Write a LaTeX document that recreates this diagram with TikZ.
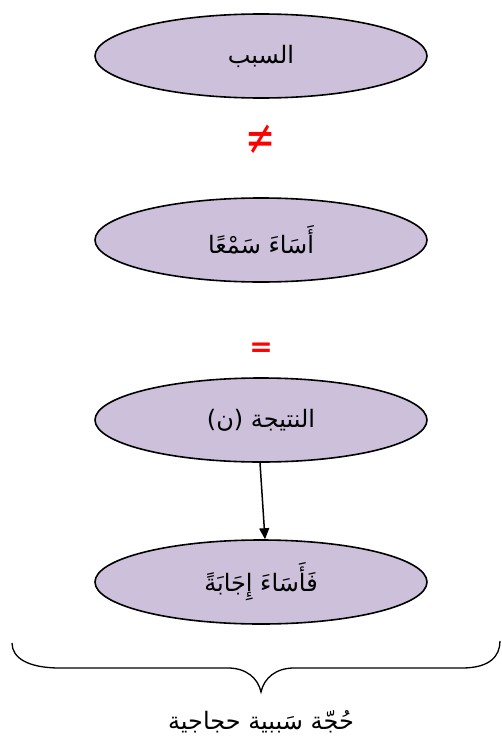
\documentclass[tikz,border=0pt]{standalone}
\usepackage{fontspec}
\usepackage{graphicx}
\newfontfamily\arabicfont[Script=Arabic]{DejaVu Sans}
\newfontfamily\symfont{DejaVu Sans}
\TeXXeTstate=1
\usetikzlibrary{shapes.geometric,arrows.meta}
\definecolor{lav}{RGB}{204,192,218}
\begin{document}
\begin{tikzpicture}[x=1pt,y=1pt,
  oval/.style={ellipse,draw=black,line width=1.6pt,fill=lav,minimum width=332pt,minimum height=84pt,inner sep=0pt,font=\arabicfont\fontsize{24}{28}\selectfont},
  sym/.style={text=red,inner sep=0pt}]
\useasboundingbox (0,0) rectangle (502,-744);
\node[oval] (e1) at (261,-56) {\beginR السبب\endR};
\node[sym,font=\symfont\fontsize{36}{36}\selectfont] (ne) at (261,-140) {\scalebox{1}[1.35]{≠}};
\node[oval] (e2) at (261,-240) {\beginR أَسَاءَ سَمْعًا\endR};
\node[sym,font=\symfont\fontsize{28}{28}\bfseries\selectfont] (eq) at (261,-350) {=};
\node[oval] (e3) at (261,-420) {\beginR النتيجة (ن)\endR};
\node[oval] (e4) at (261,-582) {\beginR فَأَسَاءَ إِجَابَةً\endR};
\draw[line width=1.5pt,-{Triangle[length=11pt,width=10pt]}] ([xshift=-1pt]e3.south) -- ([xshift=4pt]e4.north);
\coordinate (bl) at (12,-643);
\coordinate (br) at (500,-641);
\coordinate (tip) at (261,-692);
\draw[line width=1.3pt] (bl) .. controls (12,-658) and (28,-668) .. (60,-668)
  -- (228,-668) .. controls (246,-668) and (258,-678) .. (tip)
  .. controls (264,-678) and (276,-668) .. (294,-668)
  -- (462,-668) .. controls (490,-668) and (500,-656) .. (br);
\node[font=\arabicfont\fontsize{24}{28}\selectfont,inner sep=0pt] (lab) at (261,-722) {\beginR حُجّة سَببية حجاجية\endR};
\end{tikzpicture}
\end{document}
